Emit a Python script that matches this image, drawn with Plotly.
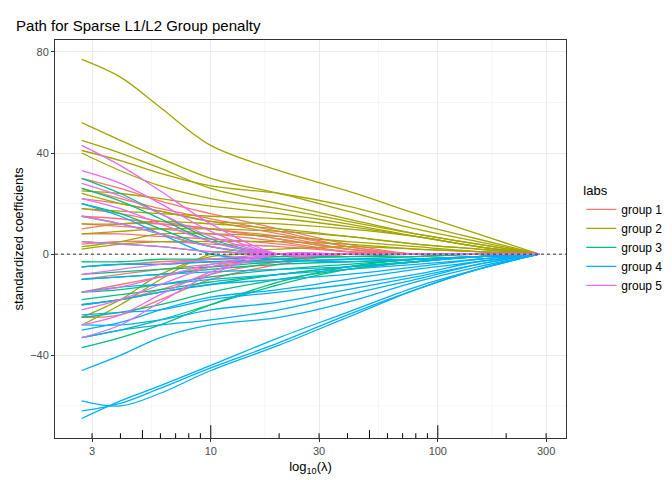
import math
import plotly.graph_objects as go

# lambda grid (path points)
lam = [2.7, 4, 6, 10, 20, 40, 80, 150, 280]

group1 = [
    [30, 26, 21, 16, 10, 4, 0, 0, 0],
    [26, 22, 18, 14, 9, 3, 0, 0, 0],
    [22, 20, 17, 13, 8, 3, 0, 0, 0],
    [18, 16, 13, 10, 7, 2, 0, 0, 0],
    [15, 14, 12, 10, 6, 2, 0, 0, 0],
    [12, 11, 10, 8, 5, 1, 0, 0, 0],
    [8, 8, 7, 6, 4, 1, 0, 0, 0],
    [4, 5, 5, 4, 3, 1, 0, 0, 0],
    [-5, -4, -3, -2, -1, 0, 0, 0, 0],
    [-10, -8, -6, -4, -2, 0, 0, 0, 0],
    [-15, -12, -9, -5, -2, 0, 0, 0, 0],
    [-20, -18, -14, -8, -3, 0, 0, 0, 0],
    [-25, -24, -18, -10, -4, 0, 0, 0, 0],
    [10, 12, 12, 10, 6, 2, 0, 0, 0],
]
group2 = [
    [77, 70, 58, 43, 33, 25, 16, 8, 0],
    [52, 45, 38, 30, 24, 17, 10, 5, 0],
    [45, 40, 34, 26, 20, 14, 8, 4, 0],
    [41, 37, 32, 27, 24, 19, 12, 6, 0],
    [40, 33, 27, 22, 18, 13, 8, 4, 0],
    [25, 24, 22, 19, 16, 12, 7, 3, 0],
    [24, 20, 17, 13, 12, 10, 7, 3, 0],
    [18, 17, 16, 15, 14, 11, 7, 3, 0],
    [12, 12, 13, 12, 10, 7, 4, 2, 0],
    [8, 9, 10, 10, 9, 7, 4, 2, 0],
    [3, 5, 8, 8, 7, 5, 3, 1, 0],
    [-28, -20, -10, 0, 2, 3, 2, 1, 0],
    [-25, -18, -8, -1, 0, 0, 0, 0, 0],
    [2, 4, 5, 5, 5, 4, 2, 1, 0],
]
group3 = [
    [30, 24, 16, 6, 0, 0, 0, 0, 0],
    [26, 21, 14, 5, 0, 0, 0, 0, 0],
    [20, 16, 10, 3, 0, 0, 0, 0, 0],
    [15, 12, 8, 3, 0, 0, 0, 0, 0],
    [-5, -4, -4, -3, -2, -1, -1, 0, 0],
    [-10, -9, -8, -6, -4, -3, -2, -1, 0],
    [-15, -14, -12, -9, -6, -4, -2, -1, 0],
    [-20, -18, -15, -12, -8, -5, -3, -1, 0],
    [-25, -23, -20, -15, -10, -6, -3, -1, 0],
    [-33, -30, -26, -20, -12, -6, -3, -1, 0],
    [-37, -33, -28, -20, -11, -5, -2, -1, 0],
    [-18, -16, -14, -11, -8, -5, -3, -1, 0],
    [5, 4, 3, 1, 0, 0, 0, 0, 0],
    [-8, -7, -6, -5, -3, -2, -1, 0, 0],
    [-3, -3, -2, -2, -1, -1, 0, 0, 0],
]
group4 = [
    [-65, -58, -52, -44, -33, -23, -13, -6, 0],
    [-62, -59, -53, -45, -35, -24, -14, -6, 0],
    [-58, -60, -55, -46, -36, -25, -14, -6, 0],
    [-46, -40, -33, -28, -25, -19, -11, -5, 0],
    [-33, -30, -28, -26, -22, -16, -10, -4, 0],
    [-28, -28, -26, -22, -19, -14, -9, -4, 0],
    [-24, -23, -22, -18, -15, -12, -8, -3, 0],
    [-20, -18, -15, -12, -10, -8, -5, -2, 0],
    [-15, -13, -12, -10, -8, -6, -4, -2, 0],
    [-10, -9, -8, -7, -6, -5, -3, -1, 0],
    [-5, -4, -4, -3, -3, -2, -2, -1, 0],
    [20, 15, 8, 0, -2, -3, -2, -1, 0],
    [-30, -27, -22, -17, -14, -10, -6, -3, 0],
]
group5 = [
    [43, 35, 25, 12, 0, 0, 0, 0, 0],
    [33, 28, 20, 9, 0, 0, 0, 0, 0],
    [28, 23, 16, 7, 0, 0, 0, 0, 0],
    [22, 18, 12, 5, 0, 0, 0, 0, 0],
    [15, 12, 8, 3, 0, 0, 0, 0, 0],
    [5, 4, 3, 1, 0, 0, 0, 0, 0],
    [-8, -6, -4, -2, 0, 0, 0, 0, 0],
    [-15, -13, -9, -4, 0, 0, 0, 0, 0],
    [-22, -18, -12, -5, 0, 0, 0, 0, 0],
    [-28, -24, -16, -7, 0, 0, 0, 0, 0],
    [-33, -28, -19, -8, 0, 0, 0, 0, 0],
]

groups = [("group 1", group1, "#F8766D"), ("group 2", group2, "#A3A500"),
          ("group 3", group3, "#00BF7D"), ("group 4", group4, "#00B0F6"),
          ("group 5", group5, "#E76BF3")]

x_ticks = [3, 10, 30, 100, 300]

fig = go.Figure()
for name, lines, col in groups:
    for i, ys in enumerate(lines):
        fig.add_trace(go.Scatter(x=lam, y=ys, mode="lines", line=dict(color=col, width=1.3, shape="spline"),
                                 name=name, legendgroup=name, showlegend=(i == 0)))

shapes = []
# minor grid lines between major ticks (ggplot style)
for a, b in zip(x_ticks[:-1], x_ticks[1:]):
    m = math.sqrt(a * b)
    shapes.append(dict(type="line", xref="x", yref="paper", x0=m, x1=m, y0=0, y1=1,
                       line=dict(color="#F2F2F2", width=0.8), layer="below"))
for v in [-60, -20, 20, 60]:
    shapes.append(dict(type="line", xref="paper", yref="y", x0=0, x1=1, y0=v, y1=v,
                       line=dict(color="#F2F2F2", width=0.8), layer="below"))
# zero reference line
shapes.append(dict(type="line", xref="paper", yref="y", x0=0, x1=1, y0=0, y1=0,
                   line=dict(color="#333333", width=1, dash="dot")))
# log tick marks at the bottom
for dec in [1, 10, 100]:
    for k in range(1, 10):
        v = dec * k
        if v < 2.5 or v > 350:
            continue
        if k == 1:
            h = 0.032
        elif k == 5:
            h = 0.02
        else:
            h = 0.012
        shapes.append(dict(type="line", xref="x", yref="paper", x0=v, x1=v, y0=0, y1=h,
                           line=dict(color="black", width=1)))

fig.update_layout(
    width=672, height=480,
    margin=dict(l=47, r=107, t=32, b=50),
    plot_bgcolor="white", paper_bgcolor="white",
    font=dict(family="Liberation Sans, Arial, sans-serif", size=11, color="#4D4D4D"),
    title=dict(text="Path for Sparse L1/L2 Group penalty", x=0.012, xanchor="left", y=0.975,
               font=dict(size=15, color="black")),
    xaxis=dict(type="log", range=[math.log10(2.06), math.log10(367)], tickvals=x_ticks,
               ticktext=[str(v) for v in x_ticks], showgrid=True, gridcolor="#EBEBEB",
               showline=True, linecolor="#333333", mirror=True, ticks="outside", ticklen=3,
               tickcolor="#333333", zeroline=False, automargin=False,
               title=dict(text="log<sub>10</sub>(λ)", font=dict(size=13, color="black"), standoff=5)),
    yaxis=dict(range=[-72.7, 84.7], tickvals=[-40, 0, 40, 80], showgrid=True, gridcolor="#EBEBEB",
               showline=True, linecolor="#333333", mirror=True, ticks="outside", ticklen=3,
               tickcolor="#333333", zeroline=False, automargin=False,
               title=dict(text="standardized coefficients", font=dict(size=13, color="black"), standoff=3)),
    legend=dict(title=dict(text="labs", font=dict(size=13, color="black")), x=1.03, xanchor="left",
                y=0.5, yanchor="middle", font=dict(size=12, color="black"), tracegroupgap=0),
    shapes=shapes,
)

fig.write_html("out.html")
